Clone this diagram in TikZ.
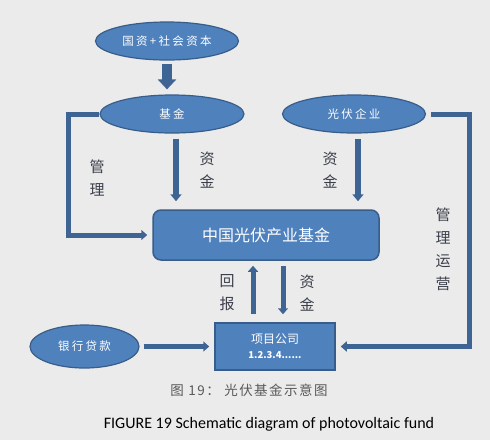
\documentclass[tikz,border=0pt]{standalone}
\usepackage{fontspec}
\usepackage{xcolor}
\usetikzlibrary{arrows.meta,shapes.geometric}
\newfontfamily\cjk{Noto Sans CJK SC}
\newfontfamily\cjkwide[LetterSpace=20]{Noto Sans CJK SC}
\newfontfamily\cjkcap[LetterSpace=11]{Noto Sans CJK SC}
\newfontfamily\capfont{Carlito}
\definecolor{fundblue}{HTML}{4F81BD}
\definecolor{fundedge}{HTML}{385D8A}
\definecolor{fundarrow}{HTML}{3E6494}
\definecolor{fundink}{HTML}{3B3F4A}
\definecolor{fundpaper}{HTML}{EBEBEB}
\newcommand{\sidelabel}[3]{%
  \node[sidetext] (#1) at #2 {#3};
}
\tikzset{
  fundoval/.style={ellipse, draw=fundedge, line width=1.2pt, fill=fundblue, text=white,
    inner sep=0pt, font=\cjkwide\fontsize{11.5}{14}\selectfont},
  fundbox/.style={rectangle, draw=fundedge, line width=1.5pt, fill=fundblue, text=white,
    inner sep=0pt},
  sidetext/.style={text=fundink, align=center, inner sep=0pt,
    font=\cjk\fontsize{15}{23}\selectfont},
  fatflow/.style={draw=fundarrow, line width=10pt, -{Triangle[length=10pt,width=18pt]}},
  downflow/.style={draw=fundarrow, line width=6pt, -{Triangle[length=7pt,width=11pt]}},
  railflow/.style={draw=fundarrow, line width=5pt, -{Triangle[length=6pt,width=10pt]}}
}

\begin{document}
\begin{tikzpicture}[x=1pt, y=-1pt]

  \useasboundingbox[fill=fundpaper] (0,0) rectangle (490,440);

  \node[fundoval, minimum width=143pt, minimum height=38pt] (capital) at (167,41) {国资+社会资本};
  \node[fundoval, minimum width=144pt, minimum height=38pt] (fund) at (172,114) {基金};
  \node[fundoval, minimum width=143pt, minimum height=38pt] (firm) at (354,114) {光伏企业};
  \node[fundbox, rounded corners=8pt, minimum width=226pt, minimum height=50pt,
    font=\cjk\fontsize{16}{18}\selectfont] (china) at (266,235) {中国光伏产业基金};
  \node[fundbox, minimum width=120pt, minimum height=47pt, align=center,
    font=\cjk\fontsize{12}{16}\selectfont] (project) at (275,346.5)
    {项目公司\\[-1pt]{\bfseries\fontsize{9.5}{12}\selectfont 1.2.3.4......}};
  \node[fundoval, minimum width=109pt, minimum height=43pt] (bank) at (84.5,346.5) {银行贷款};

  \coordinate (leftrail) at (68,114);
  \coordinate (rightrail) at (469,114);

  \draw[fatflow, shorten <=3pt, shorten >=5pt] (capital.south) -- (capital.south |- fund.north);
  \draw[downflow, shorten <=5pt, shorten >=8pt] ([xshift=4pt]fund.south) -- ([xshift=4pt]fund.south |- china.north);
  \draw[downflow, shorten <=5pt, shorten >=8pt] ([xshift=4pt]firm.south) -- ([xshift=4pt]firm.south |- china.north);
  \draw[railflow, shorten <=8pt, shorten >=5pt] ([xshift=-22pt]project.north) -- ([xshift=-22pt]project.north |- china.south);
  \draw[railflow, shorten <=5pt, shorten >=8pt] ([xshift=8pt]project.north |- china.south) -- ([xshift=8pt]project.north);
  \draw[railflow, shorten <=4pt, shorten >=5pt] (bank.east) -- (project.west);
  \draw[railflow, shorten >=5pt] (fund.west) -- (leftrail) |- (china.west);
  \draw[railflow, shorten <=5pt, shorten >=5pt] (firm.east) -- (rightrail) |- (project.east);

  \sidelabel{manageleft}{(97,178)}{管\\理}
  \sidelabel{capitalleft}{(207,170)}{资\\金}
  \sidelabel{capitalright}{(330,170)}{资\\金}
  \sidelabel{payback}{(227,293)}{回\\报}
  \sidelabel{capitalmid}{(307,293)}{资\\金}
  \sidelabel{operate}{(443,249)}{管\\理\\运\\营}

  \node[text=black!65, font=\cjkcap\fontsize{13.5}{16}\selectfont] (captioncn) at (249,390) {图 19： 光伏基金示意图};
  \node[text=black, font=\capfont\fontsize{16}{19}\selectfont] (captionen) at (269,424) {FIGURE 19 Schematic diagram of photovoltaic fund};

\end{tikzpicture}
\end{document}
